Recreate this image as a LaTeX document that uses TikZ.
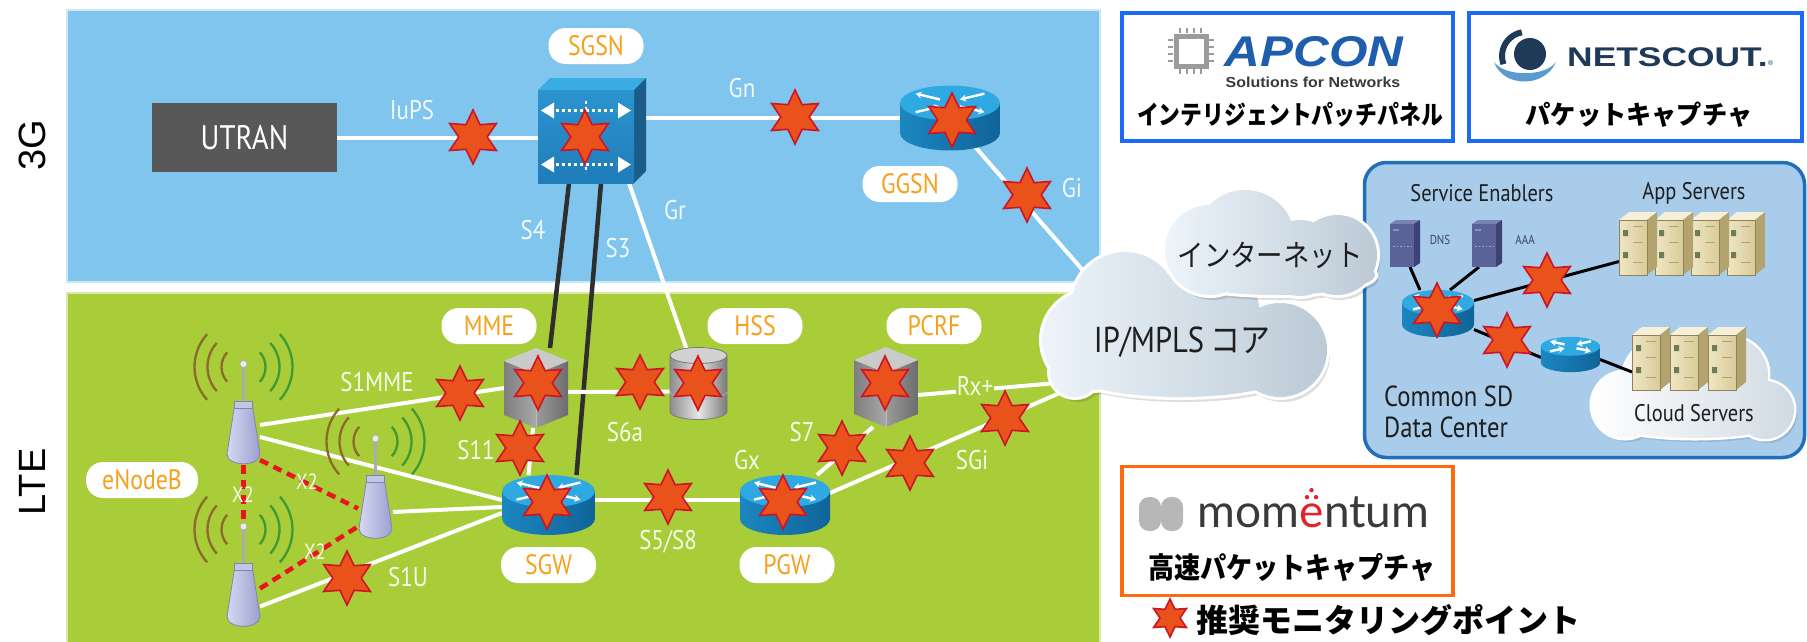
\documentclass[tikz,border=0pt]{standalone}
\usepackage{graphicx}
\usepackage{fontspec}
\setmainfont{Liberation Sans}
\newfontfamily\cond{PT Sans}[FakeStretch=0.85]
\newfontfamily\jp{Noto Sans CJK JP}
\newfontfamily\jpc{Noto Sans CJK JP}[FakeStretch=0.88]
\newfontfamily\latofont{Lato}
\newfontfamily\apcfont{Liberation Sans}[FakeStretch=1.15]
\usetikzlibrary{shapes.geometric,arrows.meta}
\newcommand\setsz[1]{\fontsize{#1}{#1}\selectfont}

\definecolor{skyA}{HTML}{80C5EE}
\definecolor{skyEdge}{HTML}{CBE8F9}
\definecolor{lteG}{HTML}{A8CD39}
\definecolor{lteEdge}{HTML}{D9EAA8}
\definecolor{pillTxt}{HTML}{F5A11C}
\definecolor{starFill}{HTML}{E9521B}
\definecolor{starLine}{HTML}{CD1426}
\definecolor{utranG}{HTML}{585858}
\definecolor{rTop}{HTML}{2FA9E1}
\definecolor{rSideL}{HTML}{1C86C0}
\definecolor{rSideR}{HTML}{0F6499}
\definecolor{cubeTop}{HTML}{38ACE3}
\definecolor{cubeF1}{HTML}{2C93CF}
\definecolor{cubeF2}{HTML}{1F7DB9}
\definecolor{cubeSide}{HTML}{1B5C88}
\definecolor{hexTop}{HTML}{CACACA}
\definecolor{hexL1}{HTML}{7E7E7E}
\definecolor{hexL2}{HTML}{A8A8A8}
\definecolor{hexR1}{HTML}{9A9A9A}
\definecolor{hexR2}{HTML}{6C6C6C}
\definecolor{cylSide}{HTML}{8E8E8E}
\definecolor{cylMid}{HTML}{E6E6E6}
\definecolor{cylTop}{HTML}{D2D2D2}
\definecolor{cylEdge}{HTML}{7A7A7A}
\definecolor{enbL}{HTML}{D6D9F1}
\definecolor{enbR}{HTML}{9AA0CF}
\definecolor{enbEdge}{HTML}{7E84B6}
\definecolor{enbCap}{HTML}{C3C7E6}
\definecolor{mastC}{HTML}{A9ABB8}
\definecolor{waveL}{HTML}{8A6B2C}
\definecolor{waveR}{HTML}{3E9B33}
\definecolor{x2red}{HTML}{E8141E}
\definecolor{darkLink}{HTML}{2E2E2E}
\definecolor{cloudL}{HTML}{EDF4FA}
\definecolor{cloudR}{HTML}{BCCAD6}
\definecolor{dcFill}{HTML}{A9CCEB}
\definecolor{dcEdge}{HTML}{1F70B8}
\definecolor{slF}{HTML}{5B6298}
\definecolor{slS}{HTML}{3C4275}
\definecolor{slT}{HTML}{7A81B3}
\definecolor{twTop}{HTML}{F6F0D8}
\definecolor{twF1}{HTML}{EFE6C2}
\definecolor{twF2}{HTML}{D9CC9B}
\definecolor{twSide}{HTML}{B3A36F}
\definecolor{twMark}{HTML}{6F7A5A}
\definecolor{logoBlue}{HTML}{1C6BF5}
\definecolor{logoOrange}{HTML}{FF6A10}
\definecolor{apconBlue}{HTML}{1E5EAD}
\definecolor{chipGray}{HTML}{9B9B9B}
\definecolor{nsNavy}{HTML}{1E3A58}
\definecolor{nsLight}{HTML}{5C9BD0}
\definecolor{moGray}{HTML}{B7B7B7}
\definecolor{moText}{HTML}{3A3A3A}
\definecolor{moRed}{HTML}{E4222B}
\definecolor{darkTxt}{HTML}{1E1E1E}

\pgfdeclarelayer{panels}
\pgfdeclarelayer{links}
\pgfsetlayers{panels,links,main}

% cloud outlines as unions of circles and ellipses
\def\ipcloud{(1092,340) circle[radius=50] (1075,372) circle[radius=25] (1125,305) circle[radius=53] (1205,315) circle[radius=55] (1280,350) circle[radius=47] (1180,372) ellipse[x radius=110, y radius=25]}
\def\netcloud{(1210,250) circle[radius=45] (1245,240) circle[radius=50] (1300,258) circle[radius=38] (1337,255) circle[radius=40] (1275,275) ellipse[x radius=100, y radius=20]}
\def\srvcloud{(1625,405) circle[radius=33] (1665,380) circle[radius=42] (1730,375) circle[radius=38] (1765,410) circle[radius=29] (1695,420) ellipse[x radius=90, y radius=18]}

\tikzset{
  ph/.style={rectangle, draw=none, fill=none, inner sep=0pt, outer sep=0pt},
  mon/.style={star, star points=6, star point ratio=1.9, minimum size=54pt, inner sep=0pt,
              fill=starFill, draw=starLine, line width=1.6pt},
  pill/.style={rectangle, fill=white, rounded corners=17pt, minimum height=36pt, minimum width=95pt,
               inner sep=0pt, text=pillTxt, font=\cond\setsz{28}},
  wlabel/.style={text=white, text opacity=.9, font=\cond\setsz{27}, inner sep=0pt},
  wlink/.style={draw=white, line width=4pt},
  dlink/.style={draw=darkLink, line width=4.5pt},
  xlink/.style={draw=x2red, line width=4.5pt, dash pattern=on 9pt off 6pt},
  blink/.style={draw=black, line width=3pt},
  router/.pic={
    \shade[left color=rSideL, right color=rSideR] (-45,-13) -- (-45,13)
      arc[start angle=180, end angle=360, x radius=45pt, y radius=15pt] -- (45,-13) -- cycle;
    \fill[rTop] (0,-13) ellipse[x radius=45pt, y radius=15pt];
    \draw[white, line width=2.4pt, -{Stealth[length=6pt,width=7pt]}] (-9,-16) -- (-31,-21);
    \draw[white, line width=2.4pt, -{Stealth[length=6pt,width=7pt]}] (9,-10) -- (31,-5);
    \draw[white, line width=2.4pt, -{Stealth[length=6pt,width=7pt]}] (-31,-5) -- (-9,-10);
    \draw[white, line width=2.4pt, -{Stealth[length=6pt,width=7pt]}] (31,-21) -- (9,-16);
  },
  hexdev/.pic={
    \shade[left color=hexL1, right color=hexL2] (-32,-27) -- (0,-14) -- (0,40) -- (-32,27) -- cycle;
    \shade[left color=hexR1, right color=hexR2] (0,-14) -- (32,-27) -- (32,27) -- (0,40) -- cycle;
    \fill[hexTop] (0,-40) -- (32,-27) -- (0,-14) -- (-32,-27) -- cycle;
    \draw[white, opacity=.35, line width=.8pt] (0,-14) -- (0,40);
  },
  cyl/.pic={
    \shade[left color=cylSide, right color=cylSide!85!black, middle color=cylMid] (-28.5,-28) -- (-28.5,28)
      arc[start angle=180, end angle=360, x radius=28.5pt, y radius=8pt] -- (28.5,-28) -- cycle;
    \fill[cylTop] (0,-28) ellipse[x radius=28.5pt, y radius=8pt];
    \draw[cylEdge, line width=.8pt] (0,-28) ellipse[x radius=28.5pt, y radius=8pt];
    \draw[cylEdge, line width=.8pt] (-28.5,-28) -- (-28.5,28)
      arc[start angle=180, end angle=360, x radius=28.5pt, y radius=8pt] -- (28.5,-28);
    \draw[cylEdge!60, line width=.6pt] (-28.5,8) arc[start angle=180, end angle=360, x radius=28.5pt, y radius=8pt];
  },
  enb/.pic={
    \foreach \rr in {22,36,49}{
      \draw[waveL, line width=2.3pt] ([shift={(138:\rr pt)}]0,-67) arc[start angle=138, end angle=222, radius=\rr pt];
      \draw[waveR, line width=2.3pt] ([shift={(-42:\rr pt)}]0,-67) arc[start angle=-42, end angle=42, radius=\rr pt];
    }
    \draw[mastC, line width=3.5pt] (0,-70) -- (0,-31);
    \fill[white!85!gray, draw=mastC, line width=.6pt] (0,-70) circle[radius=3.5];
    \shade[left color=enbL, right color=enbR, draw=enbEdge, line width=.8pt]
      (-9,-28) -- (9,-28) -- (16.5,20) .. controls (16.5,33) and (-16.5,33) .. (-16.5,20) -- cycle;
    \fill[enbCap, draw=enbEdge, line width=.6pt] (-9,-33) rectangle (9,-26);
  },
  tower/.pic={
    \fill[twTop] (0,8) -- (10,0) -- (38,0) -- (28,8) -- cycle;
    \fill[twSide] (28,8) -- (38,0) -- (38,55) -- (28,63) -- cycle;
    \shade[left color=twF1, right color=twF2] (0,8) rectangle (28,63);
    \draw[twSide!80!black, line width=.5pt] (0,8) rectangle (28,63);
    \fill[twMark] (4,18) rectangle (9,24) (4,40) rectangle (9,46);
    \draw[twSide, line width=.8pt] (14,14) -- (24,14) (14,30) -- (24,30) (14,50) -- (24,50);
  },
  slate/.pic={
    \fill[slT] (0,4) -- (6,0) -- (30,0) -- (24,4) -- cycle;
    \fill[slS] (24,4) -- (30,0) -- (30,43) -- (24,47) -- cycle;
    \fill[slF] (0,4) rectangle (24,47);
    \draw[white, opacity=.45, line width=.8pt, dash pattern=on 1.5pt off 2pt] (3,26) -- (21,26);
    \fill[white, opacity=.3] (3,9) rectangle (9,11);
  },
}

\begin{document}
\begin{tikzpicture}[x=1pt, y=-1pt]
\useasboundingbox (0,0) rectangle (1807,641);

% ---------- equipment anchors ----------
\node[ph, minimum width=185pt, minimum height=69pt, fill=utranG, text=white, font=\cond\setsz{34}] (utran) at (244.5,137.5) {UTRAN};
\node[ph, minimum width=96pt, minimum height=93pt] (sgsn) at (586,136.5) {};
\node[ph, minimum width=100pt, minimum height=65pt] (ggsn) at (950,118) {};
\node[ph, minimum width=64pt, minimum height=80pt] (mme) at (536,388) {};
\node[ph, minimum width=57pt, minimum height=73pt] (hss) at (698.5,383.5) {};
\node[ph, minimum width=64pt, minimum height=80pt] (pcrf) at (886,387) {};
\node[ph, minimum width=93pt, minimum height=60pt] (sgw) at (548.5,505) {};
\node[ph, minimum width=90pt, minimum height=60pt] (pgw) at (785,505) {};
\node[ph, minimum width=33pt, minimum height=62pt] (enb1) at (243.5,434) {};
\node[ph, minimum width=35pt, minimum height=63pt] (enb2) at (375.5,508.5) {};
\node[ph, minimum width=33pt, minimum height=63pt] (enb3) at (243.5,596.5) {};
\node[ph, minimum width=72pt, minimum height=47pt] (dcr) at (1438,313.5) {};
\node[ph, minimum width=59pt, minimum height=35pt] (dcr2) at (1570.5,354.5) {};
\node[ph, minimum width=30pt, minimum height=47pt] (dns) at (1405,243.5) {};
\node[ph, minimum width=30pt, minimum height=47pt] (aaa) at (1487,243.5) {};
\node[ph, minimum width=151pt, minimum height=63pt] (apps) at (1694.5,243.5) {};
\node[ph, minimum width=120pt, minimum height=63pt] (csrv) at (1692,358.5) {};
\coordinate (giend) at (1100,290);
\coordinate (rxend) at (1080,381);
\coordinate (sgiend) at (1085,382);

% ---------- background panels ----------
\begin{pgfonlayer}{panels}
  \fill[skyA, draw=skyEdge, line width=2pt] (67,10) rectangle (1100,282);
  \fill[lteG, draw=lteEdge, line width=2pt] (67,293) rectangle (1100,645);
  \node[rectangle, rounded corners=22pt, fill=dcFill, draw=dcEdge, line width=3.5pt,
        minimum width=440pt, minimum height=295pt] (dcbox) at (1584.5,310) {};
  \fill[black, opacity=.10, shift={(3,4)}] \srvcloud;
  \draw[white, line width=5pt] \srvcloud;
  \shade[left color=white, right color=cloudR!70] \srvcloud;
\end{pgfonlayer}
\node[font=\setsz{38}, rotate=90] (lbl3g) at (32,145) {3G};
\node[font=\setsz{38}, rotate=90] (lbllte) at (32,482) {LTE};

% ---------- links ----------
\begin{pgfonlayer}{links}
  \draw[wlink] (utran.east) -- (utran.east -| sgsn.west);
  \draw[wlink] (sgsn.east |- ggsn.west) -- (ggsn.west);
  \draw[wlink] (ggsn.center) -- (giend);
  \draw[dlink] ([xshift=-17pt]sgsn.south) -- ([xshift=14pt]mme.north);
  \draw[dlink] ([xshift=15pt]sgsn.south) -- ([xshift=28pt]sgw.north);
  \draw[wlink] ([xshift=43pt]sgsn.south) -- (hss.center);
  \draw[wlink] ([yshift=9pt]enb1.east) -- (mme.west);
  \draw[wlink] ([yshift=-3pt]enb1.east) -- ([yshift=5pt]sgw.west);
  \draw[wlink] ([yshift=-3.5pt]enb2.east) -- ([yshift=-2pt]sgw.west);
  \draw[wlink] ([yshift=-10pt]enb3.east) -- ([yshift=-8pt]sgw.west);
  \draw[xlink] (enb1.south) -- ([yshift=38pt]enb3.north);
  \draw[xlink] ([yshift=-26pt]enb1.east) -- (enb2.west);
  \draw[xlink] ([yshift=8pt]enb3.east) -- ([yshift=-18pt]enb2.west);
  \draw[wlink] ([yshift=-4pt]mme.center) -- ([yshift=-8pt]hss.center);
  \draw[wlink] ([xshift=-3pt]mme.south) -- ([xshift=-20pt]sgw.north);
  \draw[wlink] ([yshift=5pt]sgw.east) -- ([yshift=5pt]pgw.west);
  \draw[wlink] ([xshift=32pt]pgw.north) -- ([xshift=-13pt]pcrf.south);
  \draw[wlink] ([yshift=12pt]pgw.east) -- (sgiend);
  \draw[wlink] ([yshift=-8pt]pcrf.east) -- (rxend);
  \draw[blink] ([xshift=5pt]dns.south) -- ([xshift=-18pt]dcr.north);
  \draw[blink] ([xshift=-8pt]aaa.south) -- ([xshift=12pt]dcr.north);
  \draw[blink] ([yshift=13pt]dcr.east) -- ([yshift=-18pt]apps.west);
  \draw[blink] ([yshift=-16pt]dcr.east) -- ([yshift=-3pt]dcr2.west);
  \draw[blink] ([yshift=-5pt]dcr2.east) -- ([yshift=-13.5pt]csrv.west);
\end{pgfonlayer}

% ---------- clouds ----------
\fill[black, opacity=.13, shift={(3,5)}] \ipcloud;
\draw[white, line width=6pt] \ipcloud;
\shade[left color=cloudL, right color=cloudR] \ipcloud;
\fill[black, opacity=.13, shift={(3,5)}] \netcloud;
\draw[white, line width=6pt] \netcloud;
\shade[left color=cloudL, right color=cloudR] \netcloud;
\node[font=\cond\setsz{36}, text=darkTxt] (ipmpls) at (1182,342) {IP/MPLS\,{\jpc\setsz{34}コア}};
\node[font=\jpc\setsz{30}, text=darkTxt] (inet) at (1270,255) {インターネット};

% ---------- equipment drawings ----------
\begin{scope}[shift={(sgsn.center)}]
  \fill[cubeTop] (-48,-46.5) -- (-36,-58.5) -- (60,-58.5) -- (48,-46.5) -- cycle;
  \fill[cubeSide] (48,-46.5) -- (60,-58.5) -- (60,34.5) -- (48,46.5) -- cycle;
  \shade[top color=cubeF1, bottom color=cubeF2] (-48,-46.5) rectangle (48,46.5);
  \foreach \yy in {-26,28}{
    \draw[white, line width=2.4pt, dash pattern=on 3pt off 3pt] (-30,\yy) -- (30,\yy);
    \fill[white] (-45,\yy) -- (-32,\yy-8) -- (-32,\yy+8) -- cycle;
    \fill[white] (45,\yy) -- (32,\yy-8) -- (32,\yy+8) -- cycle;
  }
  \draw[white, line width=2.4pt, dash pattern=on 3pt off 3pt] (0,-36) -- (0,36);
\end{scope}
\pic[xscale=1.11, yscale=1.16] at (ggsn) {router};
\pic at (mme) {hexdev};
\pic at (hss) {cyl};
\pic at (pcrf) {hexdev};
\pic[xscale=1.03, yscale=1.07] at (sgw) {router};
\pic[yscale=1.07] at (pgw) {router};
\pic at (enb1) {enb};
\pic at (enb2) {enb};
\pic at (enb3) {enb};
\pic[xscale=.8, yscale=.84] at (dcr) {router};
\pic[xscale=.66, yscale=.63] at (dcr2) {router};
\pic at (dns.north west) {slate};
\pic at (aaa.north west) {slate};
\foreach \nn in {3,2,1,0} \pic at ([xshift=\nn*36pt]apps.north west) {tower};
\foreach \nn in {2,1,0} \pic at ([xshift=\nn*38pt]csrv.north west) {tower};

% ---------- monitoring points ----------
\node[mon] (st1) at (473,137) {};
\node[mon] (st2) at (585,137) {};
\node[mon] (st3) at (795,117) {};
\node[mon] (st4) at (952,120) {};
\node[mon] (st5) at (1027,195) {};
\node[mon] (st6) at (460,393) {};
\node[mon] (st7) at (538,383) {};
\node[mon] (st8) at (640,382) {};
\node[mon] (st9) at (698,383) {};
\node[mon] (st10) at (885,383) {};
\node[mon] (st11) at (520,448) {};
\node[mon] (st12) at (547,502) {};
\node[mon] (st13) at (668,497) {};
\node[mon] (st14) at (783,502) {};
\node[mon] (st15) at (842,448) {};
\node[mon] (st16) at (910,463) {};
\node[mon] (st17) at (1005,418) {};
\node[mon] (st18) at (347,578) {};
\node[mon] (st19) at (1437,310) {};
\node[mon] (st20) at (1547,280) {};
\node[mon] (st21) at (1507,340) {};

% ---------- interface labels ----------
\node[wlabel] (lIuPS) at (412,110) {IuPS};
\node[wlabel] (lGn) at (742,88) {Gn};
\node[wlabel] (lGr) at (675,210) {Gr};
\node[wlabel] (lS4) at (533,230) {S4};
\node[wlabel] (lS3) at (618,248) {S3};
\node[wlabel] (lGi) at (1072,188) {Gi};
\node[wlabel] (lS1MME) at (377,382) {S1MME};
\node[wlabel] (lS11) at (476,450) {S11};
\node[wlabel] (lS6a) at (625,432) {S6a};
\node[wlabel] (lS1U) at (408,577) {S1U};
\node[wlabel] (lS5) at (668,542) {S5/S8};
\node[wlabel] (lGx) at (747,460) {Gx};
\node[wlabel] (lS7) at (802,432) {S7};
\node[wlabel, fill=lteG, inner sep=1pt] (lRx) at (975,386) {Rx+};
\node[wlabel] (lSGi) at (972,460) {SGi};
\node[wlabel, font=\cond\setsz{22}] (lX2a) at (243,495) {X2};
\node[wlabel, font=\cond\setsz{22}] (lX2b) at (307,482) {X2};
\node[wlabel, font=\cond\setsz{22}] (lX2c) at (315,552) {X2};

% ---------- element names ----------
\node[pill] (pSGSN) at (596,46) {SGSN};
\node[pill] (pGGSN) at (910,184) {GGSN};
\node[pill] (pMME) at (489,326) {MME};
\node[pill] (pHSS) at (755,326) {HSS};
\node[pill] (pPCRF) at (934,326) {PCRF};
\node[pill] (pSGW) at (548.5,565) {SGW};
\node[pill] (pPGW) at (787,565) {PGW};
\node[pill, minimum width=112pt] (pENB) at (142,480) {eNodeB};

% ---------- data centre texts ----------
\node[font=\cond\setsz{24}, text=darkTxt] (tSE) at (1482,193) {Service Enablers};
\node[font=\cond\setsz{24}, text=darkTxt] (tAS) at (1694,193) {App Servers};
\node[font=\cond\setsz{13}, text=slS] (tDNS) at (1440,240) {DNS};
\node[font=\cond\setsz{13}, text=slS] (tAAA) at (1525,240) {AAA};
\node[font=\cond\fontsize{29}{31}\selectfont, text=darkTxt, align=left, anchor=west, inner sep=0pt] (tDC) at (1384,412) {Common SD\\Data Center};
\node[font=\cond\setsz{24}, text=darkTxt] (tCS) at (1694,413) {Cloud Servers};

% ---------- vendor boxes ----------
\node[rectangle, draw=logoBlue, line width=3.5pt, fill=white, minimum width=331pt, minimum height=128pt] (apbox) at (1287.5,77) {};
\node[rectangle, draw=logoBlue, line width=3.5pt, fill=white, minimum width=333pt, minimum height=128pt] (nsbox) at (1635.5,77) {};
\node[rectangle, draw=logoOrange, line width=3.5pt, fill=white, minimum width=331pt, minimum height=129pt] (mobox) at (1287.5,531) {};

% APCON
\draw[chipGray, line width=5pt, fill=white] (1176,36) rectangle (1206,66);
\foreach \nn in {0,1,2,3}{
  \draw[chipGray, line width=2.4pt] (1180+7*\nn,28) -- (1180+7*\nn,33) (1180+7*\nn,69) -- (1180+7*\nn,74)
     (1168,40+7*\nn) -- (1173,40+7*\nn) (1209,40+7*\nn) -- (1214,40+7*\nn);
}
\node[font=\apcfont\bfseries\itshape\setsz{43}, text=apconBlue] (tAP) at (1314,52) {APCON};
\node[font=\bfseries\setsz{14.5}, text=moText] (tSol) at (1313,82) {\scalebox{1.1}[1]{Solutions for Networks}};
\node[font=\jp\bfseries\setsz{26}] (tPatch) at (1290,115) {\scalebox{0.84}[1]{インテリジェントパッチパネル}};

% NETSCOUT
\fill[nsLight] (1494,62) .. controls (1503,88) and (1545,88) .. (1556,62) .. controls (1545,77) and (1505,77) .. (1494,62) -- cycle;
\draw[nsNavy, line width=6pt] ([shift={(100:24pt)}]1526,56) arc[start angle=100, end angle=200, radius=24pt];
\fill[nsNavy] (1530,54) circle[radius=16];
\node[font=\bfseries\setsz{27}, text=nsNavy, anchor=west, inner sep=0pt] (tNS) at (1567,57) {\scalebox{1.31}[1]{NETSCOUT.}};
\node[font=\setsz{7}, text=nsNavy, anchor=west, inner sep=0pt] (tReg) at ([yshift=-6pt]tNS.east) {®};
\node[font=\jp\bfseries\setsz{26}] (tCap) at (1639,115) {\scalebox{0.97}[1]{パケットキャプチャ}};

% momentum
\fill[moGray, rounded corners=10pt] (1139,497) rectangle (1161,531);
\fill[moGray, rounded corners=10pt] (1161,497) rectangle (1183,531);
\node[font=\latofont\setsz{46}, text=moText, anchor=base west, inner sep=0pt] (tMo1) at (1197,527) {mom};
\node[font=\latofont\setsz{46}, text=moRed, anchor=base west, inner sep=0pt] (tMo2) at (tMo1.base east) {e};
\node[font=\latofont\setsz{46}, text=moText, anchor=base west, inner sep=0pt] (tMo3) at (tMo2.base east) {ntum};
\fill[moRed] ([yshift=13pt]tMo2.north) circle[radius=2.2];
\fill[moRed] ([xshift=-4.5pt,yshift=6pt]tMo2.north) circle[radius=2.2];
\fill[moRed] ([xshift=4.5pt,yshift=6pt]tMo2.north) circle[radius=2.2];
\node[font=\jp\bfseries\setsz{29}] (tHS) at (1292,568) {\scalebox{0.9}[1]{高速パケットキャプチャ}};

% legend
\node[mon, minimum size=38pt] (legstar) at (1170,618) {};
\node[font=\jp\bfseries\setsz{32}, anchor=west, inner sep=0pt] (legtxt) at (1196,620) {推奨モニタリングポイント};
\end{tikzpicture}
\end{document}
